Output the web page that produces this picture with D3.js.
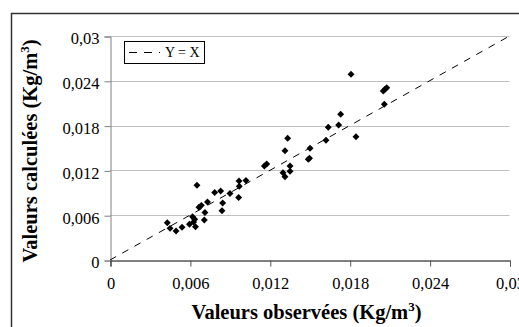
<!DOCTYPE html>
<html>
<head>
<meta charset="utf-8">
<script src="https://cdn.jsdelivr.net/npm/d3@7"></script>
<style>
  html, body { margin: 0; padding: 0; background: #fff; }
  svg { display: block; }
  text { font-family: "Liberation Serif", "Times New Roman", serif; }
</style>
</head>
<body>
<script>
// ---- data ----
const observed = [0.00430, 0.00451, 0.00496, 0.00541, 0.00597, 0.00620, 0.00636, 0.00628, 0.00642,
  0.00653, 0.00668, 0.00686, 0.00708, 0.00713, 0.00732, 0.00786, 0.00831, 0.00846, 0.00841, 0.00901,
  0.00966, 0.00971, 0.00969, 0.01021, 0.01159, 0.01177, 0.01334, 0.01314, 0.01299, 0.01314, 0.01352,
  0.01352, 0.01489, 0.01502, 0.01498, 0.01622, 0.01639, 0.01717, 0.01732, 0.01810, 0.01847, 0.02052,
  0.02078, 0.02060, 0.02065];
const calculated = [0.00500, 0.00424, 0.00388, 0.00438, 0.00478, 0.00580, 0.00545, 0.00509, 0.00446,
  0.01000, 0.00706, 0.00732, 0.00536, 0.00636, 0.00777, 0.00904, 0.00924, 0.00763, 0.00660, 0.00891,
  0.00837, 0.00987, 0.01058, 0.01065, 0.01259, 0.01286, 0.01630, 0.01464, 0.01169, 0.01116, 0.01259,
  0.01188, 0.01348, 0.01496, 0.01362, 0.01603, 0.01777, 0.01808, 0.01951, 0.02487, 0.01651, 0.02263,
  0.02308, 0.02085, 0.02286];
const tickValues = [0, 0.006, 0.012, 0.018, 0.024, 0.03];
const tickLabels = ["0", "0,006", "0,012", "0,018", "0,024", "0,03"];
const identityLine = [0, 0.03];
const legendLabel = "Y = X";
const xTitle = "Valeurs observées (Kg/m";
const yTitle = "Valeurs calculées (Kg/m";

// ---- chart ----
const W = 519, H = 327;
const svg = d3.select("body").append("svg").attr("width", W).attr("height", H);

// outer frame
svg.append("rect").attr("x", 11.5).attr("y", 13.5).attr("width", 540).attr("height", 340)
  .attr("fill", "none").attr("stroke", "#333").attr("stroke-width", 1.5);

const x = d3.scaleLinear().domain([0, 0.03]).range([110, 509.5]);
const y = d3.scaleLinear().domain([0, 0.03]).range([260, 36]);
const fmt = v => tickLabels[tickValues.indexOf(v)];

// gridlines
svg.append("g").selectAll("line").data(tickValues.filter(v => v > 0)).join("line")
  .attr("x1", x(0)).attr("x2", x(0.03))
  .attr("y1", d => Math.round(y(d)) + 0.5).attr("y2", d => Math.round(y(d)) + 0.5)
  .attr("stroke", "#c0c0c0").attr("stroke-width", 1);

// y axis
const yAxis = svg.append("g").attr("transform", "translate(110.5,0.5)")
  .call(d3.axisLeft(y).tickValues(tickValues).tickFormat(fmt).tickSize(6).tickPadding(5));
yAxis.attr("font-family", null);
yAxis.select(".domain").attr("stroke", "#808080");
yAxis.selectAll(".tick line").attr("stroke", "#808080");
yAxis.selectAll(".tick text").style("font-family", "'Liberation Serif', serif").attr("font-size", 16.5)
  .attr("fill", "#000").attr("dy", "0.45em");

// x axis
const xAxis = svg.append("g").attr("transform", "translate(0.5,260.5)")
  .call(d3.axisBottom(x).tickValues(tickValues).tickFormat(fmt).tickSize(6).tickPadding(8));
xAxis.attr("font-family", null);
xAxis.select(".domain").attr("stroke", "#000");
xAxis.selectAll(".tick line").attr("stroke", "#555");
xAxis.selectAll(".tick text").style("font-family", "'Liberation Serif', serif").attr("font-size", 16.5)
  .attr("fill", "#000").attr("dy", "0.9em");

// identity line
svg.append("line")
  .attr("x1", x(identityLine[0])).attr("y1", y(identityLine[0]))
  .attr("x2", x(identityLine[1])).attr("y2", y(identityLine[1]))
  .attr("stroke", "#000").attr("stroke-width", 1).attr("stroke-dasharray", "7,7");

// points
const pts = observed.map((o, i) => ({ o, c: calculated[i] }));
const sym = d3.symbol().type(d3.symbolSquare).size(24);
svg.append("g").selectAll("path").data(pts).join("path")
  .attr("d", sym)
  .attr("transform", d => `translate(${x(d.o)},${y(d.c)}) rotate(45)`)
  .attr("fill", "#000");

// legend
const lg = svg.append("g");
lg.append("rect").attr("x", 124.5).attr("y", 41.5).attr("width", 80).attr("height", 22)
  .attr("fill", "#fff").attr("stroke", "#000").attr("stroke-width", 1);
lg.append("line").attr("x1", 129).attr("x2", 160).attr("y1", 52.5).attr("y2", 52.5)
  .attr("stroke", "#000").attr("stroke-width", 1).attr("stroke-dasharray", "8,7");
lg.append("text").attr("x", 165).attr("y", 57).attr("font-size", 14).text(legendLabel);

// axis titles
const xt = svg.append("text").attr("x", 306.5).attr("y", 319).attr("text-anchor", "middle")
  .attr("font-size", 20.5).attr("font-weight", "bold");
xt.append("tspan").text(xTitle);
xt.append("tspan").attr("font-size", 13).attr("dy", -8).text("3");
xt.append("tspan").attr("dy", 8).text(")");

const yt = svg.append("text").attr("transform", "translate(37,151) rotate(-90)")
  .attr("text-anchor", "middle").attr("font-size", 20.5).attr("font-weight", "bold");
yt.append("tspan").text(yTitle);
yt.append("tspan").attr("font-size", 13).attr("dy", -8).text("3");
yt.append("tspan").attr("dy", 8).text(")");
</script>
</body>
</html>
